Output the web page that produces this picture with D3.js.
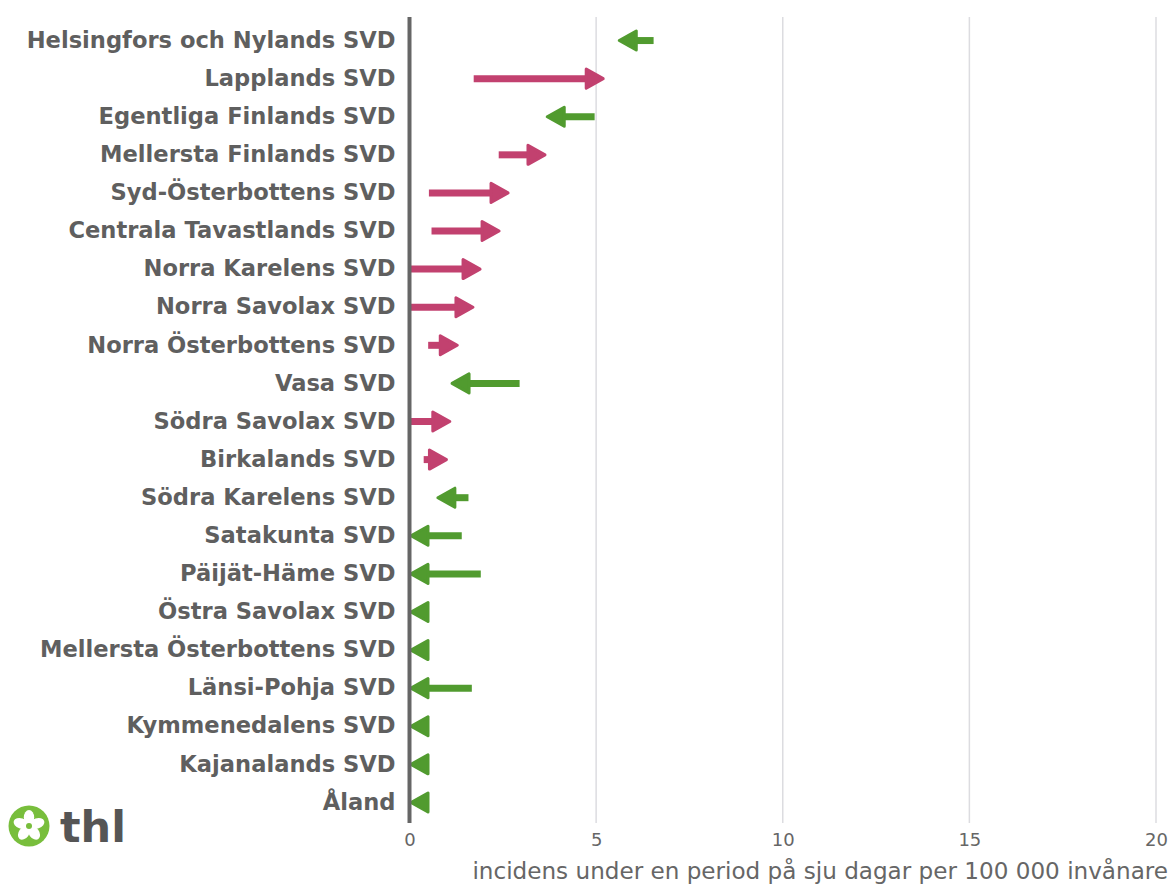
<!DOCTYPE html>
<html>
<head>
<meta charset="utf-8">
<script src="https://cdn.jsdelivr.net/npm/d3@7"></script>
<style>
  body { margin: 0; background: #fff; }
  text { font-family: "DejaVu Sans", sans-serif; }
</style>
</head>
<body>
<div id="plot"></div>
<script>
// regions, top to bottom
var regions = [
  "Helsingfors och Nylands SVD", "Lapplands SVD", "Egentliga Finlands SVD",
  "Mellersta Finlands SVD", "Syd-Österbottens SVD", "Centrala Tavastlands SVD",
  "Norra Karelens SVD", "Norra Savolax SVD", "Norra Österbottens SVD",
  "Vasa SVD", "Södra Savolax SVD", "Birkalands SVD", "Södra Karelens SVD",
  "Satakunta SVD", "Päijät-Häme SVD", "Östra Savolax SVD",
  "Mellersta Österbottens SVD", "Länsi-Pohja SVD", "Kymmenedalens SVD",
  "Kajanalands SVD", "Åland"
];

// incidence, previous period (arrow tail)
var previous = [6.54, 1.72, 4.96, 2.39, 0.52, 0.59, 0, 0, 0.5, 2.95, 0, 0.38, 1.58,
  1.4, 1.91, 0, 0, 1.67, 0, 0, 0];
// incidence, latest period (arrow tip)
var latest = [5.58, 5.23, 3.65, 3.67, 2.68, 2.44, 1.93, 1.74, 1.32, 1.1, 1.12, 1.03, 0.72,
  0, 0, 0, 0, 0, 0, 0, 0];

var xTicks = [0, 5, 10, 15, 20];

var W = 1170, H = 884;
var upColor = "#c2416f", downColor = "#519b2f";

var svg = d3.select("#plot").append("svg")
  .attr("width", W).attr("height", H);

var x = d3.scaleLinear().domain([0, 20]).range([409.5, 1156]);
var y = d3.scaleBand().domain(regions).range([21.5, 821.5]);

// grid lines
svg.append("g").selectAll("line")
  .data(xTicks.slice(1))
  .join("line")
    .attr("x1", d => x(d)).attr("x2", d => x(d))
    .attr("y1", 17).attr("y2", 823)
    .attr("stroke", "#dcdce0").attr("stroke-width", 1.5);

// x axis tick labels
var xAxis = d3.axisBottom(x).tickValues(xTicks).tickSize(0).tickPadding(0);
var gx = svg.append("g")
  .attr("transform", "translate(0,833)")
  .call(xAxis);
gx.select(".domain").remove();
gx.selectAll("text")
  .attr("font-family", "Noto Sans")
  .attr("font-size", 18)
  .attr("fill", "#666");

svg.append("text")
  .attr("x", 1168).attr("y", 879)
  .attr("text-anchor", "end")
  .attr("font-family", "Noto Sans")
  .attr("font-size", 23.1)
  .attr("fill", "#666")
  .text("incidens under en period på sju dagar per 100 000 invånare");

// y labels
var yAxis = d3.axisLeft(y).tickSize(0).tickPadding(14);
var gy = svg.append("g")
  .attr("transform", "translate(409.5,0)")
  .call(yAxis);
gy.select(".domain").remove();
gy.selectAll("text")
  .attr("font-family", "DejaVu Sans")
  .attr("font-weight", "bold")
  .attr("font-size", 22.6)
  .attr("fill", "#5f5f5f");

// arrows
var rows = regions.map((r, i) => ({region: r, from: previous[i], to: latest[i]}));
var headLen = 17, headHalf = 9.5;

var arrows = svg.append("g").selectAll("g")
  .data(rows)
  .join("g")
    .attr("transform", d => "translate(0," + (y(d.region) + y.bandwidth() / 2) + ")");

arrows.each(function(d) {
  var g = d3.select(this);
  var dir = d.to > d.from ? 1 : -1;
  var col = dir > 0 ? upColor : downColor;
  var tip = x(d.to) - dir * 1.5;
  var base = tip - dir * headLen;
  var tail = x(d.from);
  if ((tail - base) * dir < 0) {
    g.append("line")
      .attr("x1", tail).attr("x2", base + dir * 2)
      .attr("y1", 0).attr("y2", 0)
      .attr("stroke", col).attr("stroke-width", 7);
  }
  g.append("path")
    .attr("d", "M" + tip + ",0L" + base + "," + (-headHalf) + "L" + base + "," + headHalf + "Z")
    .attr("fill", col)
    .attr("stroke", col).attr("stroke-width", 3)
    .attr("stroke-linejoin", "round");
});

// zero axis line
svg.append("line")
  .attr("x1", x(0)).attr("x2", x(0))
  .attr("y1", 17).attr("y2", 823)
  .attr("stroke", "#666").attr("stroke-width", 4);

// thl logo
var logo = svg.append("g").attr("transform", "translate(29,826)");
logo.append("circle").attr("r", 20.5).attr("fill", "#78be3c");
logo.selectAll("ellipse")
  .data(d3.range(5))
  .join("ellipse")
    .attr("cx", 0).attr("cy", -8.5)
    .attr("rx", 5.2).attr("ry", 7.5)
    .attr("fill", "#fff")
    .attr("transform", d => "rotate(" + (d * 72) + ")");
logo.append("circle").attr("r", 3).attr("fill", "#78be3c");
svg.append("text")
  .attr("x", 60).attr("y", 842)
  .attr("font-family", "DejaVu Sans")
  .attr("font-weight", "bold")
  .attr("font-size", 43)
  .attr("fill", "#555")
  .text("thl");
</script>
</body>
</html>
